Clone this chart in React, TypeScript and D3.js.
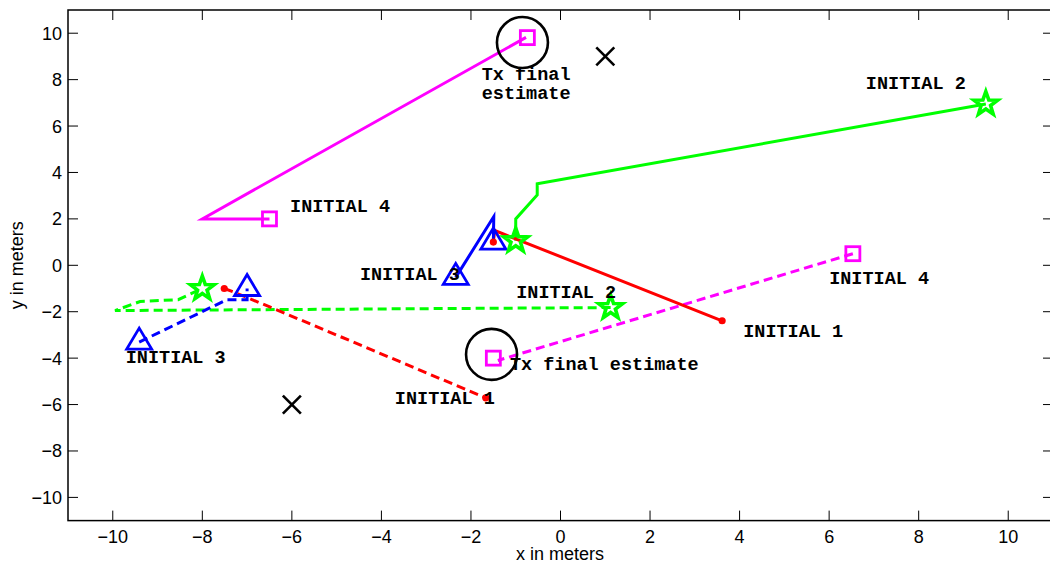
import React from "react";
import * as d3 from "d3";

type Pt = [number, number];

// Estimated trajectories (x, y in meters)
const redSolid: Pt[] = [[3.61, -2.39], [-1.47, 1.5], [-1.5, 1.0]];
const redDashed: Pt[] = [[-7.51, -1.0], [-7.3, -1.15], [-6.3, -1.95], [-1.67, -5.71]];
const greenSolid: Pt[] = [[9.5, 6.95], [-0.52, 3.51], [-0.52, 3.03], [-1.0, 2.0], [-1.0, 1.06]];
const greenDashed: Pt[] = [[1.12, -1.82], [-9.95, -1.95], [-9.39, -1.56], [-8.54, -1.48], [-8.0, -1.0]];
const blueSolid: Pt[] = [[-2.34, -0.52], [-1.49, 2.1], [-1.5, 1.0]];
const blueDashed: Pt[] = [[-9.41, -3.31], [-7.45, -1.48], [-7.0, -1.48], [-7.0, -1.0]];
const magentaSolid: Pt[] = [[-6.5, 2.0], [-8.0, 2.0], [-0.77, 9.82]];
const magentaDashed: Pt[] = [[6.53, 0.5], [-1.4, -4.1]];

// Marker positions
const stars: Pt[] = [[9.5, 6.95], [-1.0, 1.06], [1.12, -1.82], [-8.0, -1.0]];
const triangles: Pt[] = [[-2.34, -0.52], [-1.5, 1.0], [-9.41, -3.31], [-7.0, -1.0]];
const squares: Pt[] = [[-6.5, 2.0], [-0.74, 9.81], [6.53, 0.5], [-1.5, -4.0]];
const dots: Pt[] = [[3.61, -2.39], [-1.5, 1.0], [-7.51, -1.0], [-1.67, -5.71]];
const receivers: Pt[] = [[1.0, 9.0], [-6.0, -6.0]];
const finalCircles: Pt[] = [[-0.85, 9.6], [-1.54, -3.84]];

// Annotations (data coordinates of text baseline start)
const labelTexts = ["Tx final", "estimate", "INITIAL 2", "INITIAL 4", "INITIAL 3", "INITIAL 2", "Tx final estimate", "INITIAL 1", "INITIAL 1", "INITIAL 4", "INITIAL 3"];
const labelX = [-1.76, -1.76, 6.82, -6.04, -4.48, -0.99, -1.13, -3.70, 4.08, 6.0, -9.71];
const labelY = [7.97, 7.18, 7.58, 2.30, -0.62, -1.41, -4.49, -5.99, -3.08, -0.79, -4.23];

const xTicks = [-10, -8, -6, -4, -2, 0, 2, 4, 6, 8, 10];
const yTicks = [-10, -8, -6, -4, -2, 0, 2, 4, 6, 8, 10];

const W = 1050;
const H = 565;
const left = 68;
const right = 1053;
const top = 10;
const bottom = 520.6;

const x = d3.scaleLinear().domain([-11, 11]).range([left, right]);
const y = d3.scaleLinear().domain([-11, 11]).range([bottom, top]);

const line = d3.line<Pt>().x((d) => x(d[0])).y((d) => y(d[1]));

const fmt = (v: number) => (v < 0 ? "\u2212" + Math.abs(v) : String(v));

function starPath(R: number, r: number) {
  const pts: string[] = [];
  for (let i = 0; i < 10; i++) {
    const rad = i % 2 === 0 ? R : r;
    const a = -Math.PI / 2 + (i * Math.PI) / 5;
    pts.push(`${(rad * Math.cos(a)).toFixed(2)},${(rad * Math.sin(a)).toFixed(2)}`);
  }
  return "M" + pts.join("L") + "Z";
}

const STAR = starPath(12.5, 5.0);
const TRI = "M0,-14L12.5,7L-12.5,7Z";

const GREEN = "#00ff00";
const MAGENTA = "#ff00ff";
const BLUE = "#0000ff";
const RED = "#ff0000";

export default function App() {
  const dash = "9,5";
  const labelFont = { fontFamily: "'Liberation Mono', 'Courier New', monospace", fontWeight: 700, fontSize: 18.5 };
  const tickFont = { fontFamily: "'Liberation Sans', Arial, Helvetica, sans-serif", fontSize: 18 };
  return (
    <div style={{ position: "absolute", left: 0, top: 0 }}>
      <svg width={W} height={H} style={{ display: "block", background: "#fff" }}>
        <rect x={0} y={0} width={W} height={H} fill="#fff" />
        {/* axis box */}
        <rect x={left} y={top} width={right - left} height={bottom - top} fill="none" stroke="#000" strokeWidth={1.5} />
        {xTicks.map((t) => (
          <g key={"xt" + t}>
            <line x1={x(t)} x2={x(t)} y1={bottom} y2={bottom - 10} stroke="#000" strokeWidth={1} />
            <line x1={x(t)} x2={x(t)} y1={top} y2={top + 10} stroke="#000" strokeWidth={1} />
            <text x={x(t)} y={543} textAnchor="middle" style={tickFont}>{fmt(t)}</text>
          </g>
        ))}
        {yTicks.map((t) => (
          <g key={"yt" + t}>
            <line x1={left} x2={left + 10} y1={y(t)} y2={y(t)} stroke="#000" strokeWidth={1} />
            <line x1={right} x2={right - 10} y1={y(t)} y2={y(t)} stroke="#000" strokeWidth={1} />
            <text x={62} y={y(t) + 6.5} textAnchor="end" style={tickFont}>{fmt(t)}</text>
          </g>
        ))}
        <text x={x(0) - 0.5} y={560} textAnchor="middle" style={tickFont}>x in meters</text>
        <text transform={`translate(23,${y(0)}) rotate(-90)`} textAnchor="middle" style={tickFont}>y in meters</text>

        {/* trajectories */}
        <path d={line(magentaSolid) || ""} fill="none" stroke={MAGENTA} strokeWidth={3} />
        <path d={line(magentaDashed) || ""} fill="none" stroke={MAGENTA} strokeWidth={3} strokeDasharray={dash} />
        <path d={line(greenSolid) || ""} fill="none" stroke={GREEN} strokeWidth={3} />
        <path d={line(greenDashed) || ""} fill="none" stroke={GREEN} strokeWidth={3} strokeDasharray={dash} />
        <path d={line(redSolid) || ""} fill="none" stroke={RED} strokeWidth={3} />
        <path d={line(redDashed) || ""} fill="none" stroke={RED} strokeWidth={3} strokeDasharray={dash} />
        <path d={line(blueSolid) || ""} fill="none" stroke={BLUE} strokeWidth={3} />
        <path d={line(blueDashed) || ""} fill="none" stroke={BLUE} strokeWidth={3} strokeDasharray={dash} />

        {/* markers */}
        {dots.map((d, i) => (
          <circle key={"d" + i} cx={x(d[0])} cy={y(d[1])} r={3.6} fill={RED} />
        ))}
        {squares.map((d, i) => (
          <rect key={"s" + i} x={x(d[0]) - 7} y={y(d[1]) - 7} width={14} height={14} fill="none" stroke={MAGENTA} strokeWidth={2.8} />
        ))}
        {triangles.map((d, i) => (
          <path key={"t" + i} d={TRI} transform={`translate(${x(d[0])},${y(d[1])})`} fill="none" stroke={BLUE} strokeWidth={2.8} />
        ))}
        {stars.map((d, i) => (
          <path key={"st" + i} d={STAR} transform={`translate(${x(d[0])},${y(d[1])})`} fill="none" stroke={GREEN} strokeWidth={3.6} strokeLinejoin="miter" />
        ))}
        {receivers.map((d, i) => (
          <g key={"r" + i} transform={`translate(${x(d[0])},${y(d[1])})`} stroke="#000" strokeWidth={2.6}>
            <line x1={-9} y1={-9} x2={9} y2={9} />
            <line x1={-9} y1={9} x2={9} y2={-9} />
          </g>
        ))}
        {finalCircles.map((d, i) => (
          <circle key={"c" + i} cx={x(d[0])} cy={y(d[1])} r={25.5} fill="none" stroke="#000" strokeWidth={2.6} />
        ))}

        {/* annotations */}
        {labelTexts.map((s, i) => (
          <text key={"l" + i} x={x(labelX[i])} y={y(labelY[i])} style={labelFont} xmlSpace="preserve">{s}</text>
        ))}
      </svg>
    </div>
  );
}
